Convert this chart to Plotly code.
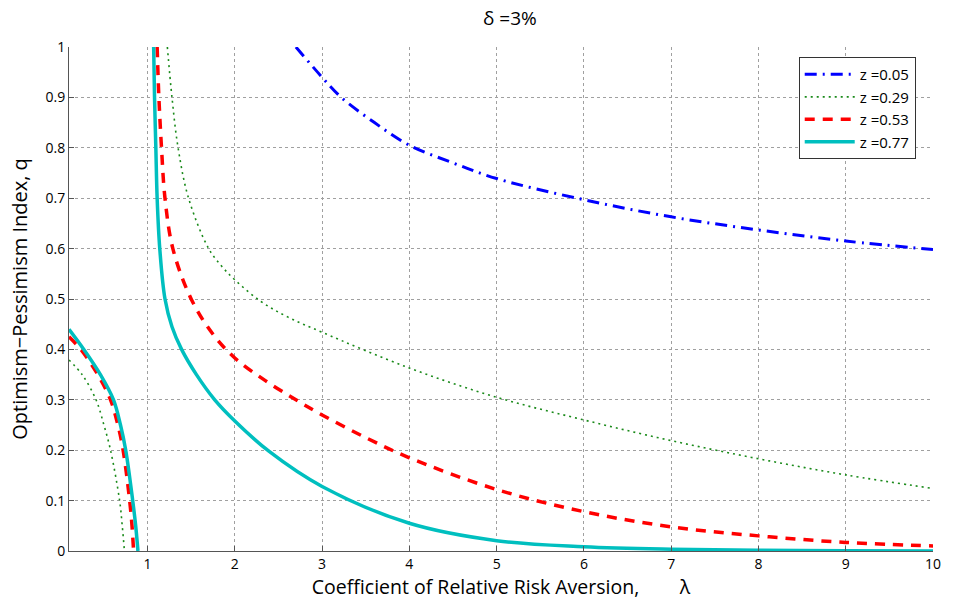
import plotly.graph_objects as go

# ---- data ----
lam_z005 = [2.70, 3.0, 3.22, 3.6, 4.0, 4.5, 5.0, 6.0, 7.0, 8.0, 9.0, 10.0]
q_z005 = [1.0, 0.94, 0.90, 0.85, 0.805, 0.77, 0.739, 0.697, 0.663, 0.637, 0.615, 0.598]

lam_z029_left = [0.1, 0.25, 0.41, 0.50, 0.576, 0.68, 0.71, 0.735]
q_z029_left = [0.379, 0.35, 0.30, 0.25, 0.20, 0.10, 0.05, 0.0]
lam_z029_right = [1.227, 1.28, 1.35, 1.47, 1.70, 1.85, 2.0, 2.3, 2.61, 3.0, 4.0, 5.0, 6.0, 7.0, 8.0, 9.0, 10.0]
q_z029_right = [1.0, 0.90, 0.80, 0.70, 0.60, 0.565, 0.538, 0.495, 0.464, 0.434, 0.363, 0.305, 0.26, 0.219, 0.183, 0.151, 0.124]

lam_z053_left = [0.1, 0.235, 0.43, 0.576, 0.66, 0.72, 0.795, 0.822, 0.84]
q_z053_left = [0.425, 0.40, 0.35, 0.30, 0.25, 0.20, 0.10, 0.05, 0.0]
lam_z053_right = [1.11, 1.13, 1.16, 1.20, 1.29, 1.50, 1.75, 2.0, 2.35, 2.70, 3.0, 3.5, 4.0, 5.0, 6.0, 7.0, 8.0, 9.0, 10.0]
q_z053_right = [1.0, 0.90, 0.80, 0.70, 0.60, 0.50, 0.43, 0.383, 0.338, 0.30, 0.27, 0.225, 0.185, 0.122, 0.078, 0.048, 0.030, 0.017, 0.010]

lam_z077_left = [0.1, 0.27, 0.46, 0.61, 0.69, 0.75, 0.83, 0.864, 0.89]
q_z077_left = [0.44, 0.40, 0.35, 0.30, 0.25, 0.20, 0.10, 0.05, 0.0]
lam_z077_right = [1.07, 1.08, 1.095, 1.11, 1.14, 1.20, 1.28, 1.39, 1.56, 1.77, 2.0, 2.39, 3.0, 4.0, 5.0, 6.0, 7.0, 8.0, 9.0, 10.0]
q_z077_right = [1.0, 0.90, 0.80, 0.70, 0.60, 0.50, 0.445, 0.40, 0.35, 0.30, 0.258, 0.198, 0.128, 0.055, 0.0205, 0.0085, 0.0035, 0.0013, 0.0005, 0.0002]

x_ticks = [1, 2, 3, 4, 5, 6, 7, 8, 9, 10]
y_ticks = [0, 0.1, 0.2, 0.3, 0.4, 0.5, 0.6, 0.7, 0.8, 0.9, 1]
y_tick_text = ["0", "0.1", "0.2", "0.3", "0.4", "0.5", "0.6", "0.7", "0.8", "0.9", "1"]

FONT = "Open Sans"

fig = go.Figure()

def add(xs, ys, name, color, width, dash, show):
    fig.add_trace(go.Scatter(
        x=xs, y=ys, mode="lines", name=name, showlegend=show, legendgroup=name,
        line=dict(color=color, width=width, dash=dash, shape="spline", smoothing=1.0),
    ))

add(lam_z005, q_z005, "z =0.05", "#0000ff", 3, "12px,6px,2px,6px", True)
add(lam_z029_right, q_z029_right, "z =0.29", "#1a8a1a", 1.6, "2px,4px", True)
add(lam_z029_left, q_z029_left, "z =0.29", "#1a8a1a", 1.6, "2px,4px", False)
add(lam_z053_right, q_z053_right, "z =0.53", "#ff0000", 3.5, "10px,8px", True)
add(lam_z053_left, q_z053_left, "z =0.53", "#ff0000", 3.5, "10px,8px", False)
add(lam_z077_right, q_z077_right, "z =0.77", "#00bfbf", 3.5, "solid", True)
add(lam_z077_left, q_z077_left, "z =0.77", "#00bfbf", 3.5, "solid", False)

fig.update_layout(
    width=953, height=604,
    margin=dict(l=69, r=14, t=47, b=53),
    paper_bgcolor="white", plot_bgcolor="white",
    font=dict(family=FONT, color="black", size=14),
    title=dict(text="δ =3%", x=0.535, xanchor="center", y=0.97, yanchor="middle",
               font=dict(family=FONT, size=19)),
    legend=dict(x=0.98, xanchor="right", y=0.98, yanchor="top",
                bgcolor="white", bordercolor="#333333", borderwidth=1,
                font=dict(family=FONT, size=15), itemwidth=50,
                tracegroupgap=0),
    showlegend=True,
)
fig.update_xaxes(
    range=[0.1, 10], tickvals=x_ticks, ticks="inside", ticklen=5,
    tickcolor="#555", showline=True, linecolor="#555", linewidth=1,
    showgrid=True, gridcolor="#a0a0a0", griddash="dot", gridwidth=1,
    zeroline=False, mirror=False,
    tickfont=dict(size=14),
    title=dict(text="Coefficient of Relative Risk Aversion,\u00a0\u00a0\u00a0\u00a0\u00a0\u00a0\u00a0\u00a0λ",
               font=dict(size=19.5), standoff=4),
)
fig.update_yaxes(
    range=[0, 1], tickvals=y_ticks, ticktext=y_tick_text, ticks="inside", ticklen=5,
    tickcolor="#555", showline=True, linecolor="#555", linewidth=1,
    showgrid=True, gridcolor="#a0a0a0", griddash="dot", gridwidth=1,
    zeroline=False, mirror=False,
    tickfont=dict(size=14),
    title=dict(text="Optimism−Pessimism Index, q", font=dict(size=20), standoff=12),
)

fig.write_html("out.html", post_script="document.body.style.margin='0';",
               config={"displayModeBar": False})
